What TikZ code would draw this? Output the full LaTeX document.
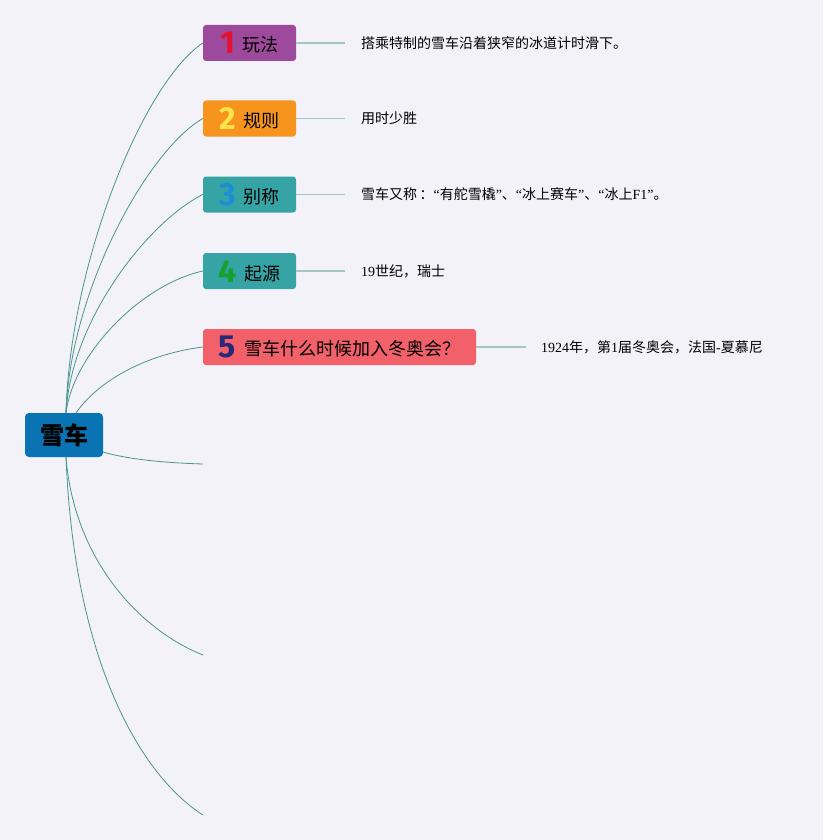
\documentclass[tikz,border=0pt]{standalone}
\usepackage{fontspec}
\setmainfont{Liberation Serif}
\newfontfamily\cjk{Noto Sans CJK SC}
\newfontfamily\numf{Fira Sans}
\newfontfamily\ser{Liberation Serif}
\definecolor{bgc}{HTML}{F2F2F8}
\definecolor{cen}{HTML}{0A73B3}
\definecolor{bxa}{HTML}{9E4A9C}
\definecolor{nma}{HTML}{E3122E}
\definecolor{bxb}{HTML}{F7941D}
\definecolor{nmb}{HTML}{FCE34A}
\definecolor{bxc}{HTML}{36A4A4}
\definecolor{nmc}{HTML}{1A8FD6}
\definecolor{nmd}{HTML}{16A02E}
\definecolor{bxe}{HTML}{F2616A}
\definecolor{nme}{HTML}{26287A}
\definecolor{curvec}{HTML}{4A9590}
\definecolor{stubc}{HTML}{A3C7C6}
\newcommand{\topic}[3]{\raisebox{-2pt}{\numf\bfseries\fontsize{32}{34}\selectfont\color{#1}#2}\hspace{8pt}{\cjk\fontsize{18}{20}\selectfont #3}}
\tikzset{
  topicbox/.style={rounded corners=3pt, minimum height=36pt, minimum width=93pt, inner sep=0pt, text=black},
  desc/.style={anchor=west, inner sep=0pt, font=\cjk\fontsize{14}{16}\selectfont, text=black},
  curve/.style={draw=curvec, line width=0.8pt},
  stub/.style={draw=stubc, line width=1.5pt}
}
\begin{document}
\begin{tikzpicture}[x=1pt,y=-1pt]
\fill[bgc] (0,0) rectangle (823,840);
\useasboundingbox (0,0) rectangle (823,840);
% center
\node[fill=cen, rounded corners=4pt, minimum width=78pt, minimum height=44pt, inner sep=0pt, font=\cjk\bfseries\fontsize{24}{26}\selectfont] (c) at (64,435) {雪车};
% topics
\node[topicbox, fill=bxa] (t1) at (249.5,43) {\topic{nma}{1}{玩法}};
\node[topicbox, fill=bxb] (t2) at (249.5,118.5) {\topic{nmb}{2}{规则}};
\node[topicbox, fill=bxc] (t3) at (249.5,194.5) {\topic{nmc}{3}{别称}};
\node[topicbox, fill=bxc] (t4) at (249.5,271) {\topic{nmd}{4}{起源}};
\node[topicbox, fill=bxe, minimum width=273pt] (t5) at (339.5,347) {\topic{nme}{5}{雪车什么时候加入冬奥会？}};
% descriptions
\coordinate (s1) at (345,43);
\coordinate (s2) at (345,118.5);
\coordinate (s3) at (345,194.5);
\coordinate (s4) at (345,271);
\coordinate (s5) at (526,347);
\node[desc] (d1) at (361,43) {搭乘特制的雪车沿着狭窄的冰道计时滑下。};
\node[desc] (d2) at (361,118.5) {用时少胜};
\node[desc] (d3) at (361,194.5) {雪车又称\,：{\ser “}有舵雪橇{\ser ”}、{\ser “}冰上赛车{\ser ”}、{\ser “}冰上{\ser F1}{\ser ”}。};
\node[desc] (d4) at (361,271) {{\ser 19}世纪，瑞士};
\node[desc] (d5) at (541,347) {{\ser 1924}年，第{\ser 1}届冬奥会，法国{\ser -}夏慕尼};
\draw[stub] (t1.east) -- (s1);
\draw[stub] (t2.east) -- (s2);
\draw[stub] (t3.east) -- (s3);
\draw[stub] (t4.east) -- (s4);
\draw[stub] (t5.east) -- (s5);
% empty branch ends
\coordinate (e6) at (203,464);
\coordinate (e7) at (203,655);
\coordinate (e8) at (203,815);
\coordinate (ct) at (66,413);
\coordinate (ct5) at (76,413);
\coordinate (cb) at (66,457);
\coordinate (ce) at (103,452);
% curves
\draw[curve] (ct) .. controls (70,263) and (143,83) .. (t1.west);
\draw[curve] (ct) .. controls (70,290) and (148,150) .. (t2.west);
\draw[curve] (ct) .. controls (71,320) and (148,222) .. (t3.west);
\draw[curve] (ct) .. controls (73,355) and (140,285) .. (t4.west);
\draw[curve] (ct5) .. controls (95,385) and (140,355) .. (t5.west);
\draw[curve] (ce) .. controls (130,460) and (170,463) .. (e6);
\draw[curve] (cb) .. controls (74,560) and (140,630) .. (e7);
\draw[curve] (cb) .. controls (74,660) and (140,775) .. (e8);
\end{tikzpicture}
\end{document}
